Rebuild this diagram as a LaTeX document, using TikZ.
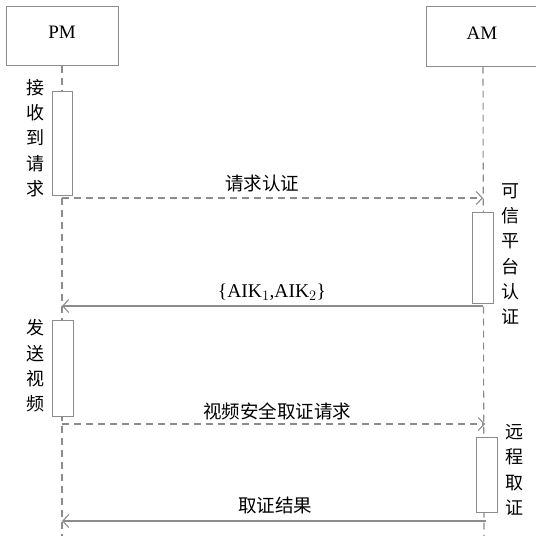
\documentclass[tikz,border=0pt]{standalone}
\usepackage{fontspec}
\setmainfont{Liberation Serif}
\newfontfamily\cjk{Noto Sans CJK SC}
\usetikzlibrary{arrows.meta}
\begin{document}
\begin{tikzpicture}[x=1pt,y=-1pt,
  actor/.style={draw=gray!90,line width=1pt,fill=white,minimum width=112pt,minimum height=59pt,inner sep=0pt,font=\fontsize{19}{20}\selectfont},
  life/.style={draw=gray!90,line width=1.1pt,dash pattern=on 7pt off 5pt},
  actbox/.style={draw=gray!90,line width=1pt,fill=white},
  vlab/.style={align=center,inner sep=0pt,font=\cjk\fontsize{18}{25.3}\selectfont},
  mlab/.style={inner sep=0pt,font=\cjk\fontsize{18.5}{20}\selectfont},
  async/.style={draw=gray!90,line width=1.1pt,dash pattern=on 7pt off 5pt,-{Straight Barb[length=6pt,width=13pt]}},
  reply/.style={draw=gray!90,line width=1.1pt,-{Straight Barb[length=6pt,width=13pt]}}]
\useasboundingbox (0,0) rectangle (536,536);
% actors
\node[actor] (pm) at (62,35.5) {};
\node[actor,minimum width=114pt,minimum height=60pt] (am) at (483,36) {};
\node[inner sep=0pt,font=\fontsize{19}{20}\selectfont] (pmt) at (62,32) {PM};
\node[inner sep=0pt,font=\fontsize{19}{20}\selectfont] (amt) at (482,33) {AM};
\coordinate (pmEnd) at (62,536);
\coordinate (amEnd) at (484,536);
\draw[life] (pm.south) -- (pmEnd);
\draw[life] (am.south) -- (amEnd);
% activations
\draw[actbox] (52,91) rectangle (72,195);
\draw[actbox] (472,212) rectangle (493,303);
\draw[actbox] (52,320) rectangle (73,416);
\draw[actbox] (476,437) rectangle (497,512);
% vertical labels
\node[vlab] (l1) at (35,138) {接\\收\\到\\请\\求};
\node[vlab] (l2) at (510,254) {可\\信\\平\\台\\认\\证};
\node[vlab] (l3) at (35,366) {发\\送\\视\\频};
\node[vlab] (l4) at (514,470) {远\\程\\取\\证};
% message points
\coordinate (m1s) at (62,198);  \coordinate (m1e) at (483,198);
\coordinate (m2s) at (483,306); \coordinate (m2e) at (62,306);
\coordinate (m3s) at (62,424);  \coordinate (m3e) at (485,424);
\coordinate (m4s) at (486,521); \coordinate (m4e) at (62,521);
\draw[async] (m1s) -- (m1e);
\draw[reply] (m2s) -- (m2e);
\draw[async] (m3s) -- (m3e);
\draw[reply] (m4s) -- (m4e);
% message labels
\node[mlab] (t1) at (262,183) {请求认证};
\node[inner sep=0pt,font=\fontsize{19.5}{20}\selectfont] (t2) at (272,292) {\{AIK$_1$,AIK$_2$\}};
\node[mlab] (t3) at (277,411) {视频安全取证请求};
\node[mlab] (t4) at (275,505) {取证结果};
\end{tikzpicture}
\end{document}
